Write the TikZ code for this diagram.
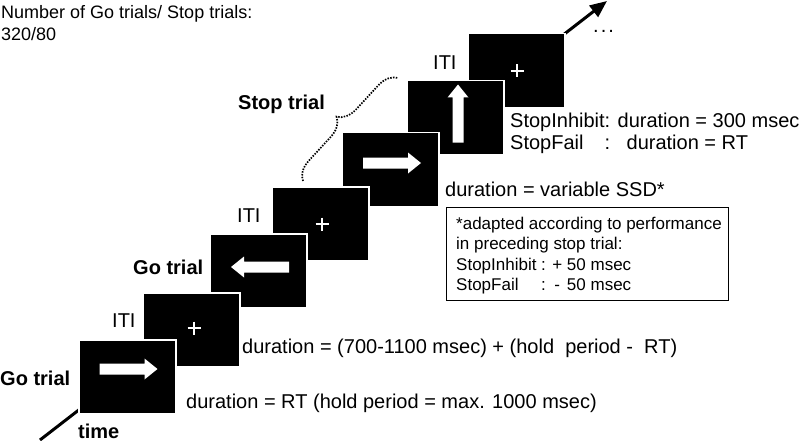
\documentclass[tikz,border=0pt]{standalone}
\usepackage{fontspec}
\setmainfont{Liberation Sans}
\usetikzlibrary{arrows.meta,decorations.pathreplacing}
\tikzset{
  screen/.style={draw=white, line width=1.5pt, fill=black, minimum width=97pt, minimum height=74pt, anchor=north west, inner sep=0pt},
  lbl/.style={anchor=base west, inner sep=0pt, font=\fontsize{20}{22}\selectfont},
  blbl/.style={lbl, font=\fontsize{20}{22}\selectfont\bfseries},
  toplbl/.style={anchor=base west, inner sep=0pt, font=\fontsize{18}{22}\selectfont},
  small/.style={anchor=base west, inner sep=0pt, font=\fontsize{17}{20.5}\selectfont},
  notebox/.style={draw, line width=1.3pt, anchor=north west, minimum width=282pt, minimum height=93pt, inner sep=0pt},
  timeline/.style={line width=3pt, -{Triangle[length=17pt,width=14pt]}},
  bracket/.style={decorate, decoration={brace, amplitude=19pt}, line width=1.7pt, dash pattern=on 1.5pt off 1.3pt},
  plus/.pic={\draw[white, line width=2.7pt] (-6.5,0) -- (6.5,0) (0,-6.5) -- (0,6.5);},
  blockarrow/.pic={\fill[white] (-29,-5.5) -- (16,-5.5) -- (16,-10.5) -- (29,0) -- (16,10.5) -- (16,5.5) -- (-29,5.5) -- cycle;},
}
\begin{document}
\begin{tikzpicture}[x=1pt,y=-1pt]
\useasboundingbox (0,0) rectangle (800,441);
% time axis
\coordinate (t0) at (40,440);
\coordinate (t1) at (607,1);
\draw[timeline] (t0) -- (t1);
% screens, later ones first
\node[screen] (s7) at (467,33) {};
\pic at (517,71) {plus};
\node[screen] (s6) at (406,80) {};
\pic[rotate=90] at (458,113.5) {blockarrow};
\node[screen] (s5) at (341,132) {};
\pic at (392,163) {blockarrow};
\node[screen] (s4) at (271,186) {};
\pic at (322,224) {plus};
\node[screen] (s3) at (209,233) {};
\pic[rotate=180] at (260,267) {blockarrow};
\node[screen] (s2) at (142,292) {};
\pic at (194,328) {plus};
\node[screen] (s1) at (78,339) {};
\pic at (128.5,369) {blockarrow};
% brace
\coordinate (b0) at (303,181);
\coordinate (b1) at (398,78);
\draw[bracket] (b0) -- (b1);
% labels
\node[toplbl] (title) at (1,19) {\begin{tabular}[t]{@{}l@{}}Number of Go trials/ Stop trials:\\ 320/80\end{tabular}};
\node[lbl] (dots) at (593,33) {.\kern2pt.\kern2pt.};
\node[lbl] (iti7) at (433,70) {ITI};
\node[lbl] (iti4) at (237,222) {ITI};
\node[lbl] (iti2) at (112,327) {ITI};
\node[blbl] (go3) at (133,274) {Go trial};
\node[blbl] (go1) at (0,385) {Go trial};
\node[blbl] (time) at (78,438) {time};
\node[blbl] (stop) at (238,110) {Stop trial};
\node[lbl] (stopdur) at (510,128) {\begin{tabular}[t]{@{}l@{}l@{}}StopInhibit & : duration = 300 msec\\ StopFail & :\hspace{9pt} duration = RT\end{tabular}};
\node[lbl] (ssd) at (445,196) {duration = variable SSD*};
\node[notebox] (note) at (446,207) {};
\node[small] (notetext) at (456,229) {\begin{tabular}[t]{@{}l@{ : }l@{}}\multicolumn{2}{@{}l@{}}{*adapted according to performance}\\ \multicolumn{2}{@{}l@{}}{in preceding stop trial:}\\ StopInhibit & \makebox[10pt]{+} 50 msec\\ StopFail & \makebox[10pt]{-} 50 msec\end{tabular}};
\node[lbl] (iti) at (242,353) {duration = (700-1100 msec) + (hold\ \ period -\ \ RT)};
\node[lbl] (rt) at (186,408) {duration = RT (hold period = max. 1000 msec)};
\end{tikzpicture}
\end{document}
